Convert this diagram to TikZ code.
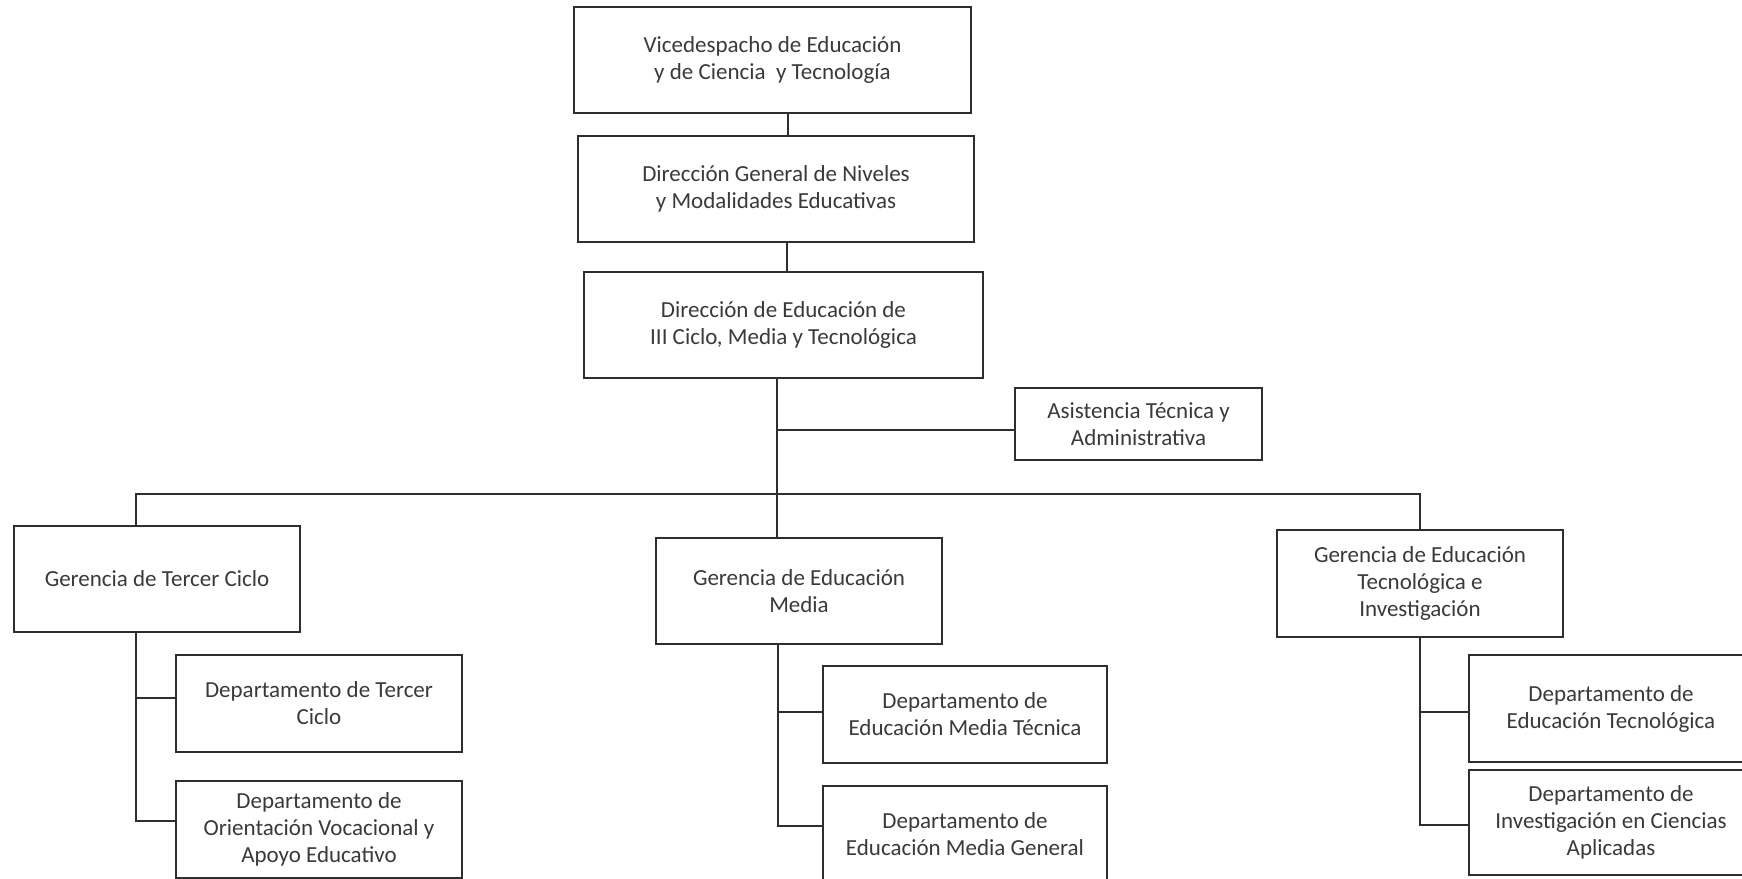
\documentclass[tikz,border=0pt]{standalone}
\usepackage{fontspec}
\setmainfont{Carlito}
\usetikzlibrary{calc}
\definecolor{ink}{HTML}{2E2E2E}
\definecolor{txt}{HTML}{3A3A3A}
\tikzset{
  orgbox/.style={draw=ink, line width=1.1pt, fill=white, text=txt, align=center,
    inner sep=0pt, font=\fontsize{11.5}{13.5}\selectfont},
  link/.style={draw=ink, line width=1.1pt},
}
\begin{document}
\begin{tikzpicture}[x=0.5pt,y=-0.5pt]
\useasboundingbox (0,0) rectangle (1742,879);
\clip (0,0) rectangle (1742,879);
\fill[white] (0,0) rectangle (1742,879);
% top chain
\node[orgbox, minimum width=198.5pt, minimum height=53pt] (b1) at (772.5,60)
  {Vicedespacho de Educación\\y de Ciencia\ \ y Tecnología};
\node[orgbox, minimum width=198pt, minimum height=53pt] (b2) at (776,189)
  {Dirección General de Niveles\\y Modalidades Educativas};
\node[orgbox, minimum width=199.5pt, minimum height=53pt] (b3) at (783.5,325)
  {Dirección de Educación de\\III Ciclo, Media y Tecnológica};
\node[orgbox, minimum width=123.5pt, minimum height=36pt] (asis) at (1138.5,424)
  {Asistencia Técnica y\\Administrativa};
% gerencias
\node[orgbox, minimum width=143pt, minimum height=53pt] (g1) at (157,579)
  {Gerencia de Tercer Ciclo};
\node[orgbox, minimum width=143pt, minimum height=53pt] (g2) at (799,591)
  {Gerencia de Educación\\Media};
\node[orgbox, minimum width=143pt, minimum height=53.5pt] (g3) at (1420,583.5)
  {Gerencia de Educación\\Tecnológica e\\Investigación};
% departamentos
\node[orgbox, minimum width=143pt, minimum height=48.5pt] (d11) at (319,703.5)
  {Departamento de Tercer\\Ciclo};
\node[orgbox, minimum width=143pt, minimum height=48.5pt] (d12) at (319,829.5)
  {Departamento de\\Orientación Vocacional y\\Apoyo Educativo};
\node[orgbox, minimum width=142pt, minimum height=48.5pt] (d21) at (965,714.5)
  {Departamento de\\Educación Media Técnica};
\node[orgbox, minimum width=142pt, minimum height=48.5pt] (d22) at (965,834.5)
  {Departamento de\\Educación Media General};
\node[orgbox, minimum width=142pt, minimum height=53.5pt] (d31) at (1611,708.5)
  {Departamento de\\Educación Tecnológica};
\node[orgbox, minimum width=142pt, minimum height=52.5pt] (d32) at (1611,822.5)
  {Departamento de\\Investigación en Ciencias\\Aplicadas};
% junction coordinates
\coordinate (j1) at (777,430);
\coordinate (busL) at (136,494);
\coordinate (busM) at (777,494);
\coordinate (busR) at (1420,494);
\coordinate (s11) at (136,698);
\coordinate (s12) at (136,821);
\coordinate (s21) at (778,712);
\coordinate (s22) at (778,826);
\coordinate (s31) at (1420,712);
\coordinate (s32) at (1420,825);
% connectors
\draw[link] (788,0 |- b1.south) -- (788,0 |- b2.north);
\draw[link] (787,0 |- b2.south) -- (787,0 |- b3.north);
\draw[link] (777,0 |- b3.south) -- (777,0 |- g2.north);
\draw[link] (j1) -- (j1 -| asis.west);
\draw[link] (136,0 |- g1.north) -- (busL) -- (busR) -- (g3.north);
\draw[link] (136,0 |- g1.south) -- (s12) -- (s12 -| d12.west);
\draw[link] (s11) -- (s11 -| d11.west);
\draw[link] (778,0 |- g2.south) -- (s22) -- (s22 -| d22.west);
\draw[link] (s21) -- (s21 -| d21.west);
\draw[link] (g3.south) -- (s32) -- (s32 -| d32.west);
\draw[link] (s31) -- (s31 -| d31.west);
\end{tikzpicture}
\end{document}
